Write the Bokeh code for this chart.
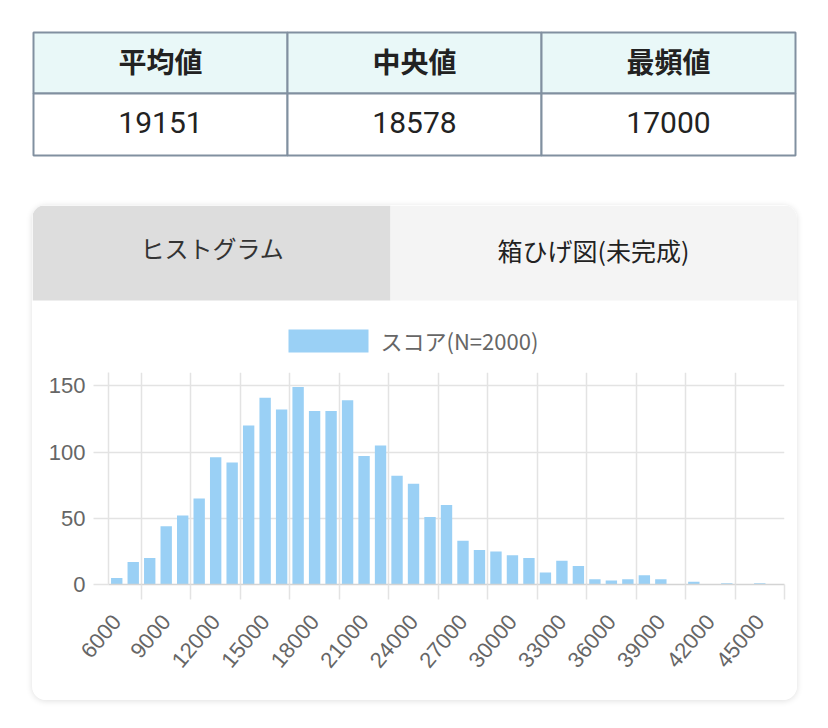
import math
from bokeh.plotting import figure
from bokeh.models import (Range1d, FixedTicker, LinearAxis, Grid, ColumnDataSource, Spacer)
from bokeh.layouts import column, row
from bokeh.core.properties import value
from bokeh.embed import file_html
from bokeh.resources import INLINE

# ---------------- data ----------------
stat_names = ["平均値", "中央値", "最頻値"]
stat_values = [19151, 18578, 17000]
tab_names = ["ヒストグラム", "箱ひげ図(未完成)"]
series_name = "スコア(N=2000)"

bin_starts = [6000, 7000, 8000, 9000, 10000, 11000, 12000, 13000, 14000, 15000,
              16000, 17000, 18000, 19000, 20000, 21000, 22000, 23000, 24000, 25000,
              26000, 27000, 28000, 29000, 30000, 31000, 32000, 33000, 34000, 35000,
              36000, 37000, 38000, 39000, 40000, 41000, 42000, 43000, 44000, 45000,
              46000]
counts = [5, 17, 20, 44, 52, 65, 96, 92, 120, 141,
          132, 149, 131, 131, 139, 97, 105, 82, 76, 51,
          60, 33, 26, 25, 22, 20, 9, 18, 14, 4,
          3, 4, 7, 4, 0, 2, 0, 1, 0, 1,
          0]
y_ticks = [0, 50, 100, 150]
label_step = 3

# ---------------- layout constants (page pixels) ----------------
W, H = 828, 728
CARD_L, CARD_R, CARD_T, CARD_B = 32, 797, 205, 700
TAB_B = 300
FL, FR, FT, FB = 108, 784, 372, 584      # chart frame
TXT = "#666666"
GRID = "#e3e3e3"
BAR = "#9ad0f5"
AX_FONT = "Liberation Sans"
CJK = "Noto Sans CJK JP"


def pixel_fig(x0, x1, y0, y1):
    f = figure(width=x1 - x0, height=y1 - y0, output_backend="svg", toolbar_location=None,
               x_range=Range1d(x0, x1), y_range=Range1d(y1, y0),
               x_axis_location=None, y_axis_location=None, min_border=0)
    f.outline_line_color = None
    f.background_fill_color = "white"
    f.border_fill_color = "white"
    f.xgrid.visible = False
    f.ygrid.visible = False
    return f


# ---------------- stats table ----------------
top = pixel_fig(0, W, 0, CARD_T)
col_edges = [33, 287, 541, 795]
row_edges = [32, 93, 155]
BORDER = "#8190a0"
n = len(stat_names)
cells = ColumnDataSource(dict(
    left=col_edges[:n], right=col_edges[1:],
    cx=[(col_edges[i] + col_edges[i + 1]) / 2 for i in range(n)],
    name=stat_names, val=[str(v) for v in stat_values]))
top.quad(left="left", right="right", top=row_edges[0], bottom=row_edges[1], source=cells,
         fill_color="#e9f8f8", line_color=BORDER, line_width=2)
top.quad(left="left", right="right", top=row_edges[1], bottom=row_edges[2], source=cells,
         fill_color="white", line_color=BORDER, line_width=2)
top.text(x="cx", y=(row_edges[0] + row_edges[1]) / 2 - 2.5, text="name", source=cells,
         text_align="center", text_baseline="middle", text_font=value(CJK),
         text_font_style="bold", text_font_size="28px", text_color="#222222")
top.text(x="cx", y=(row_edges[1] + row_edges[2]) / 2 - 2.5, text="val", source=cells,
         text_align="center", text_baseline="middle", text_font=value("Roboto"),
         text_font_size="30px", text_color="#222222")

# ---------------- tabs + legend ----------------
head = pixel_fig(CARD_L, CARD_R, CARD_T, FT)
tab_src = ColumnDataSource(dict(left=[CARD_L, 390], right=[390, CARD_R],
                                cx=[212, 593], cy=[247, 249], name=tab_names,
                                size=["24px", "25px"],
                                fill=["#dddddd", "#f4f4f4"], color=["#333333", "#222222"]))
head.quad(left="left", right="right", top=CARD_T, bottom=TAB_B, source=tab_src,
          fill_color="fill", line_color=None)
head.text(x="cx", y="cy", text="name", source=tab_src,
          text_align="center", text_baseline="middle", text_font=value(CJK),
          text_font_size="size", text_color="color")
# legend (swatch + label)
head.quad(left=288, right=368, top=329, bottom=352, fill_color=BAR, line_color=None)
head.text(x=380, y=339, text=[series_name], text_align="left", text_baseline="middle",
          text_font=value(CJK), text_font_size="22px", text_color=TXT)

# ---------------- histogram ----------------
idx = list(range(len(bin_starts)))
p = figure(width=CARD_R - CARD_L, height=CARD_B - FT, output_backend="svg",
           toolbar_location=None,
           x_range=Range1d(-0.5, len(bin_starts) - 0.5), y_range=Range1d(0, 160),
           x_axis_location=None, y_axis_location=None,
           min_border_left=FL - CARD_L, min_border_right=CARD_R - FR,
           min_border_top=0, min_border_bottom=CARD_B - FB)
p.outline_line_color = None
p.background_fill_color = "white"
p.border_fill_color = "white"
p.xgrid.visible = False
p.ygrid.visible = False

label_idx = idx[::label_step]
xgrid_ticks = [i + label_step / 2 for i in label_idx]
p.add_layout(Grid(dimension=0, ticker=FixedTicker(ticks=xgrid_ticks),
                  grid_line_color=GRID, grid_line_width=1.5), "center")
p.add_layout(Grid(dimension=1, ticker=FixedTicker(ticks=y_ticks),
                  grid_line_color=GRID, grid_line_width=1.5), "center")

bars = p.vbar(x=idx, top=counts, width=0.69, fill_color=BAR, line_color=None)

yax = LinearAxis(ticker=FixedTicker(ticks=y_ticks), major_tick_out=15, major_tick_in=0,
                 major_tick_line_color=GRID, major_tick_line_width=1.5,
                 minor_tick_line_color=None, axis_line_color=GRID, axis_line_width=1.5,
                 major_label_text_color=TXT, major_label_text_font_size="22px",
                 major_label_text_font=AX_FONT, major_label_standoff=8)
p.add_layout(yax, "left")

xtick_ax = LinearAxis(ticker=FixedTicker(ticks=xgrid_ticks), major_tick_out=15, major_tick_in=0,
                      major_tick_line_color=GRID, major_tick_line_width=1.5,
                      minor_tick_line_color=None, axis_line_color="#d4d4d4", axis_line_width=1.5,
                      major_label_text_font_size="0px", major_label_standoff=0,
                      major_label_overrides={t: "" for t in xgrid_ticks})
p.add_layout(xtick_ax, "below")

xlab_ax = LinearAxis(ticker=FixedTicker(ticks=label_idx), major_tick_out=0, major_tick_in=0,
                     major_tick_line_color=None, minor_tick_line_color=None, axis_line_color=None,
                     major_label_overrides={i: str(bin_starts[i]) for i in label_idx},
                     major_label_orientation=math.radians(50),
                     major_label_text_color=TXT, major_label_text_font_size="22px",
                     major_label_text_font=AX_FONT, major_label_standoff=18)
p.add_layout(xlab_ax, "below")

card = column(row(head, spacing=0), row(p, spacing=0), spacing=0,
              styles={"border-radius": "14px", "overflow": "hidden",
                      "box-shadow": "0 1px 6px rgba(0,0,0,0.13)"})
layout = column(top,
                row(Spacer(width=CARD_L, height=CARD_B - CARD_T), card,
                    Spacer(width=W - CARD_R, height=CARD_B - CARD_T), spacing=0),
                Spacer(width=W, height=H - CARD_B), spacing=0)

open("out.html", "w").write(file_html(layout, INLINE))
